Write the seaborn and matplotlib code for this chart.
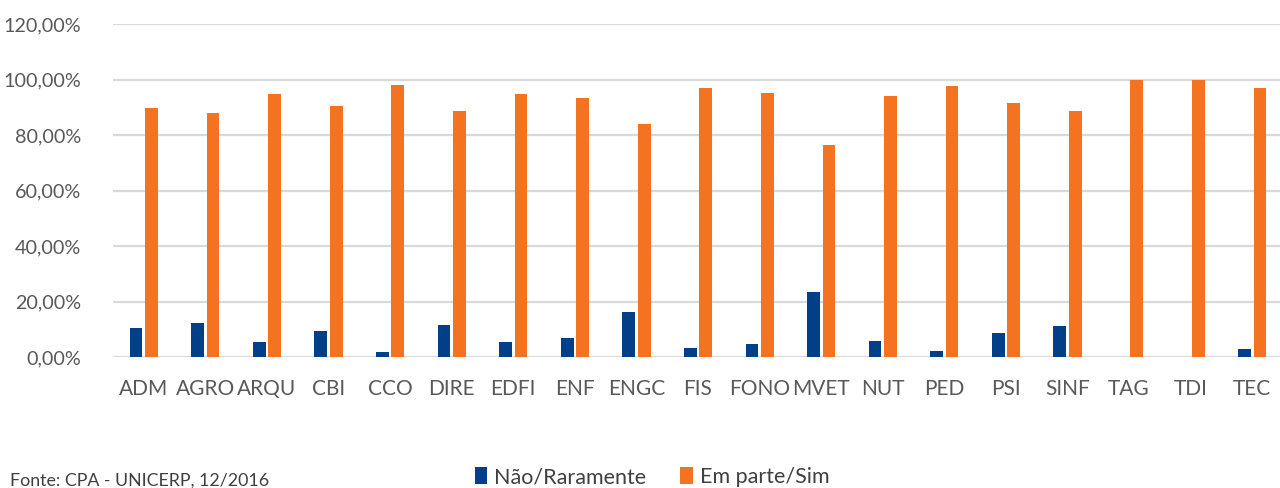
import matplotlib
matplotlib.use("Agg")
import matplotlib.pyplot as plt
import matplotlib.ticker as mticker
from matplotlib.patches import Patch
import seaborn as sns
import pandas as pd

categories = ["ADM", "AGRO", "ARQU", "CBI", "CCO", "DIRE", "EDFI", "ENF", "ENGC", "FIS",
              "FONO", "MVET", "NUT", "PED", "PSI", "SINF", "TAG", "TDI", "TEC"]
nao_raramente = [10.3, 12.2, 5.4, 9.4, 1.9, 11.5, 5.5, 6.8, 16.3, 3.1,
                 4.7, 23.6, 5.8, 2.2, 8.6, 11.2, 0.0, 0.0, 2.9]
em_parte_sim = [89.8, 87.9, 94.6, 90.6, 98.1, 88.6, 94.6, 93.2, 83.8, 96.9,
                95.3, 76.5, 94.2, 97.8, 91.4, 88.8, 100.0, 100.0, 97.1]
series_names = ["Não/Raramente", "Em parte/Sim"]
y_ticks = [0, 20, 40, 60, 80, 100, 120]
source_text = "Fonte: CPA - UNICERP, 12/2016"

colors = ["#013F88", "#F37321"]

df = pd.concat([
    pd.DataFrame({"curso": categories, "valor": nao_raramente, "serie": series_names[0]}),
    pd.DataFrame({"curso": categories, "valor": em_parte_sim, "serie": series_names[1]}),
])

sns.set_theme(style="white")
plt.rcParams["font.family"] = ["Lato", "DejaVu Sans"]

fig = plt.figure(figsize=(12.8, 4.88), dpi=100)
ax = fig.add_axes([113 / 1280, (488 - 357) / 488, (1280 - 113) / 1280, (357 - 24) / 488])

sns.barplot(data=df, x="curso", y="valor", hue="serie", order=categories,
            hue_order=series_names, palette=colors, width=0.5, gap=0.17,
            saturation=1, legend=False, ax=ax, edgecolor="none")

ax.set_ylim(0, 120)
ax.set_xlim(-0.5, 18.45)
ax.set_yticks(y_ticks)
ax.yaxis.set_major_formatter(mticker.FuncFormatter(lambda v, p: f"{v:.2f}".replace(".", ",") + "%"))
ax.grid(axis="y", color="#d9d9d9", linewidth=1.6)
ax.set_axisbelow(True)
for s in ax.spines.values():
    s.set_visible(False)
ax.tick_params(axis="y", length=0, pad=23, labelsize=14.2, labelcolor="#595959")
ax.tick_params(axis="x", length=0, pad=16, labelsize=15, labelcolor="#595959")
ax.set_xlabel("")
ax.set_ylabel("")

handles = [Patch(facecolor=c, edgecolor="none") for c in colors]
fig.legend(handles, series_names, loc="center", bbox_to_anchor=(652 / 1280, 1 - 477 / 488),
           ncol=2, frameon=False, fontsize=15.5, handlelength=0.6, handleheight=0.8,
           handletextpad=0.3, columnspacing=1.6, labelcolor="#404040")

fig.text(10 / 1280, 1 - 481 / 488, source_text, ha="left", va="center", fontsize=12.8,
         color="#404040")

fig.savefig("out.png", dpi=100)
